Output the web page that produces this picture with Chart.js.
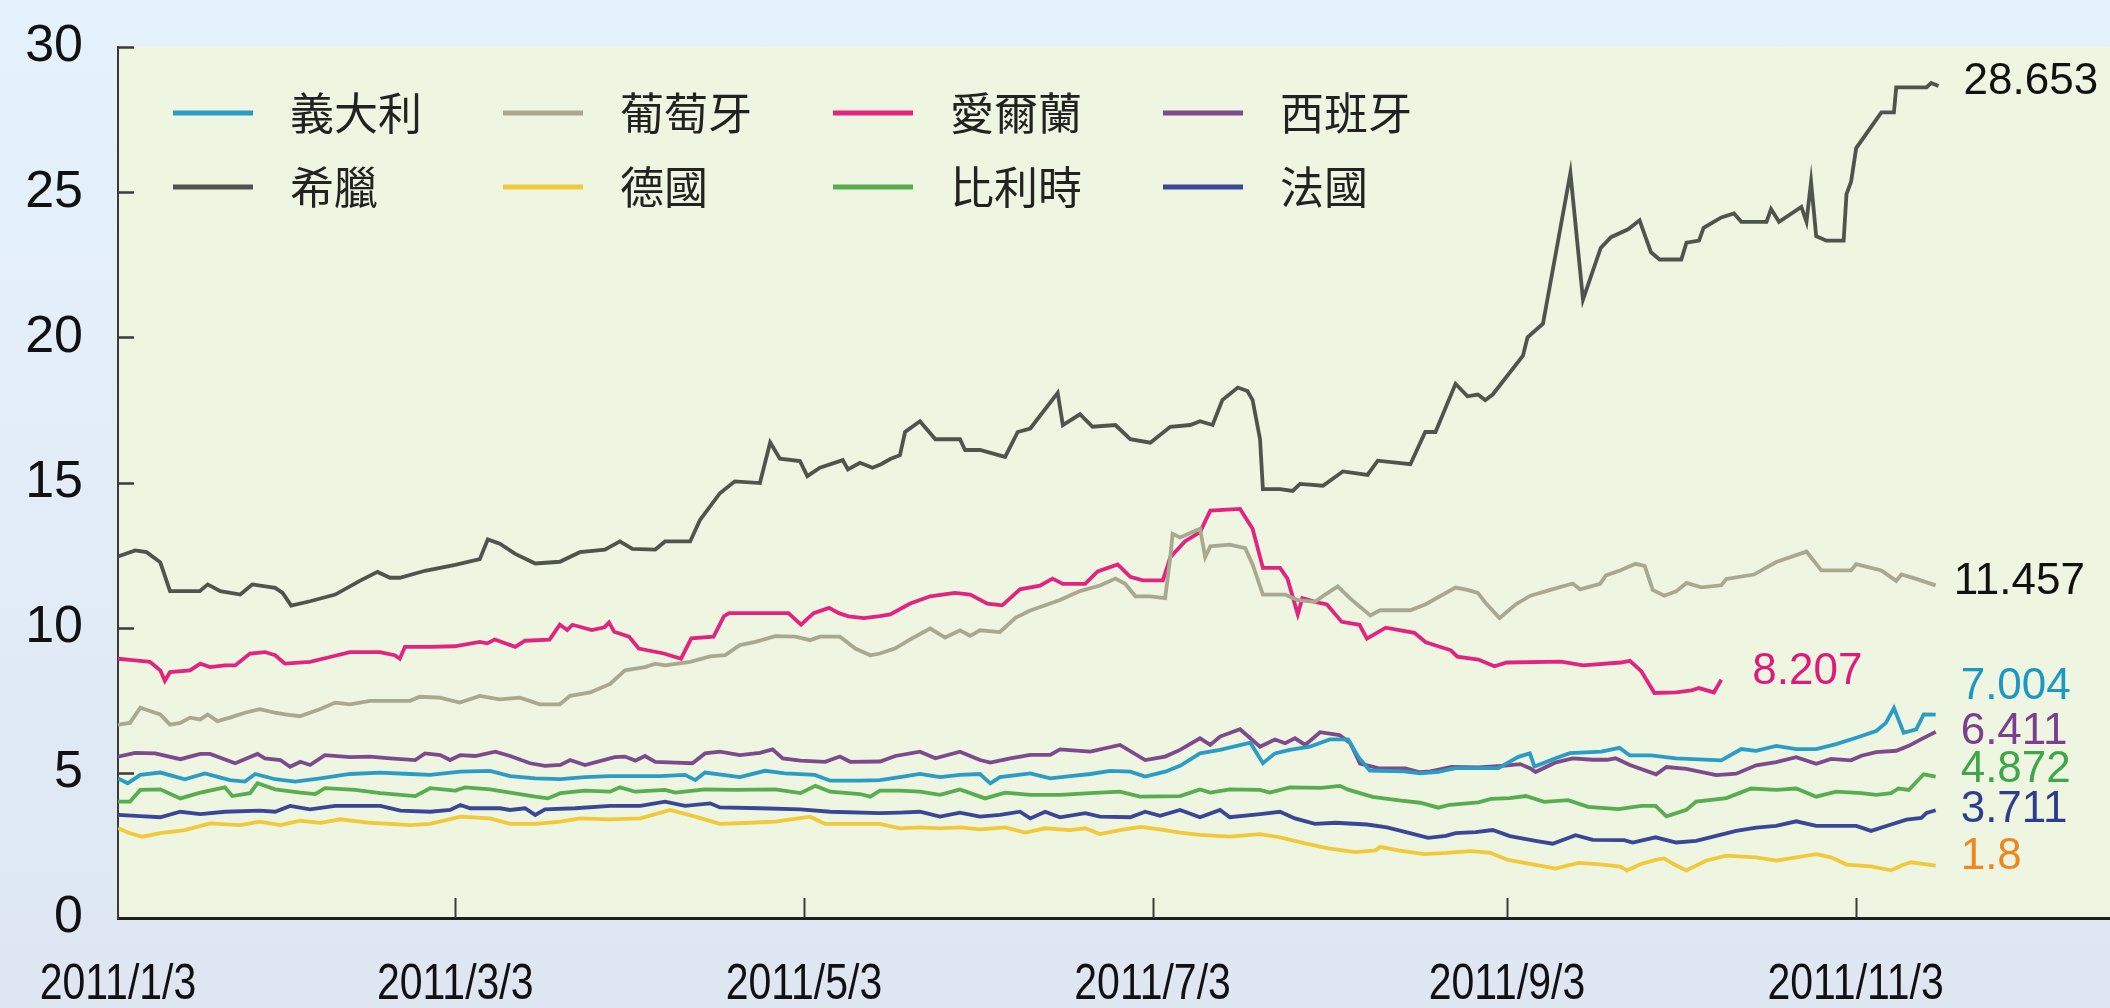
<!DOCTYPE html>
<html>
<head>
<meta charset="utf-8">
<script src="https://cdn.jsdelivr.net/npm/chart.js@4.4.1/dist/chart.umd.min.js"></script>
<style>
html,body{margin:0;padding:0;}
body{width:2110px;height:1008px;overflow:hidden;background:linear-gradient(180deg,#e5f1fb 0%,#e1ecf7 55%,#dde6f1 100%);}
#c{position:absolute;left:0;top:0;}
</style>
</head>
<body>
<canvas id="c" width="2110" height="1008"></canvas>
<script>
// ---------- DATA ----------
const countries = ['義大利','葡萄牙','愛爾蘭','西班牙','希臘','德國','比利時','法國'];
const tickLabels = ['2011/1/3','2011/3/3','2011/5/3','2011/7/3','2011/9/3','2011/11/3'];
const yTickValues = [0,5,10,15,20,25,30];

// [days since 2011/1/3, yield %]
const italy = [[0,4.81],[1.7,4.64],[3.9,4.93],[7.4,5.01],[11.7,4.78],[15.2,4.98],[19.6,4.75],[22.2,4.7],[24,4.96],[27.5,4.78],[31,4.7],[35.4,4.81],[40.6,4.96],[45.9,5.01],[51.1,4.96],[54.6,4.93],[59.9,5.04],[65.1,5.07],[68.6,4.89],[73,4.81],[77.4,4.78],[81.7,4.85],[86.1,4.89],[94.8,4.89],[99.2,4.93],[101,4.75],[102.7,5.01],[108.8,4.85],[113.2,5.07],[116.7,4.98],[121.9,4.93],[124.6,4.73],[129.8,4.73],[133.3,4.75],[136.8,4.85],[140.3,4.96],[143.8,4.85],[147.3,4.93],[150.8,4.96],[152.6,4.64],[154.3,4.85],[159.6,4.98],[163.1,4.81],[166.6,4.89],[170.1,4.96],[173.6,5.07],[177.1,5.04],[179.7,4.87],[183.2,5.04],[185.8,5.24],[189.3,5.67],[192.8,5.79],[198.1,6.04],[200.3,5.33],[202.4,5.67],[205,5.79],[208.5,5.9],[212,6.15],[215.2,6.15],[217,5.55],[219,5.08],[225,5.05],[227.8,4.98],[231,5.03],[234,5.16],[241.5,5.16],[245,5.55],[247,5.67],[247.8,5.22],[249.7,5.36],[251.5,5.5],[254,5.68],[259.5,5.73],[262.7,5.86],[264.5,5.6],[268.2,5.6],[272.6,5.5],[280.5,5.43],[284,5.82],[286.6,5.76],[290.1,5.93],[293.6,5.82],[297.1,5.82],[300.6,5.99],[304.1,6.21],[307.6,6.44],[309.3,6.72],[310.7,7.23],[312.4,6.38],[314.6,6.5],[315.9,7.01],[318,7.004]];

const portugal = [[0,6.66],[2.1,6.72],[3.9,7.24],[5.6,7.13],[7.4,7.01],[9.1,6.66],[10.9,6.72],[12.6,6.9],[14.4,6.84],[15.7,7.01],[17.4,6.78],[19.6,6.9],[22.2,7.07],[24.8,7.19],[27.5,7.07],[29.2,7.01],[31.8,6.95],[35.3,7.19],[38,7.42],[40.6,7.36],[44.1,7.48],[51.1,7.48],[52.8,7.62],[56.3,7.59],[59.8,7.42],[63.3,7.65],[66.8,7.53],[70.3,7.59],[73.8,7.36],[77.3,7.36],[79.1,7.65],[82.6,7.77],[86.1,8.06],[88.7,8.53],[92.2,8.64],[94,8.76],[95.7,8.7],[100.1,8.82],[103.6,9.01],[106.2,9.05],[108.8,9.4],[111.5,9.51],[115,9.71],[118.5,9.69],[121.1,9.57],[122.8,9.69],[126.3,9.69],[129,9.28],[131.6,9.05],[133.3,9.11],[136,9.29],[138.6,9.6],[142.1,9.97],[144.7,9.66],[147.3,9.91],[149.1,9.72],[150.8,9.91],[154.3,9.85],[157,10.34],[159.6,10.59],[163.1,10.83],[164.8,10.95],[168.3,11.26],[171.8,11.45],[174.5,11.69],[176.2,11.51],[178,11.08],[180.6,11.08],[183.2,11.02],[184.1,12.43],[184.5,13.23],[185.8,13.11],[189.3,13.41],[190.2,12.43],[191.1,12.8],[194.5,12.86],[197.2,12.74],[198.5,12.18],[200.3,11.14],[204.2,11.14],[206.4,10.95],[209.4,10.89],[211.2,11.14],[213.4,11.42],[215.6,11.0],[219.1,10.42],[220.8,10.6],[226.1,10.6],[228.7,10.8],[234,11.38],[236.1,11.3],[237.9,11.2],[239.2,10.87],[241.7,10.33],[244.5,10.8],[247.1,11.1],[250.6,11.3],[254.5,11.52],[255.8,11.32],[259.3,11.51],[260.3,11.8],[262.9,11.98],[265.5,12.2],[267.1,12.13],[268.5,11.3],[270.5,11.1],[272.6,11.25],[274.4,11.54],[277,11.39],[280.5,11.46],[281.4,11.68],[286.2,11.83],[290.1,12.26],[295.4,12.62],[298,11.97],[303.2,11.97],[304.1,12.19],[308.5,11.97],[311.1,11.61],[312,11.83],[314.6,11.68],[318,11.457]];

const ireland = [[0,8.93],[3,8.87],[5.6,8.82],[7.4,8.53],[8.2,8.17],[9.1,8.47],[12.6,8.53],[14.4,8.76],[16.1,8.64],[18.7,8.7],[20.5,8.7],[23.1,9.11],[25.7,9.16],[27.5,9.05],[29.2,8.76],[33.6,8.82],[37.1,8.99],[40.6,9.16],[45.8,9.16],[48.4,9.05],[49.3,8.93],[50.2,9.34],[54.6,9.34],[58.9,9.36],[63.3,9.51],[64.6,9.46],[65.9,9.59],[69.5,9.34],[71.2,9.55],[75.5,9.59],[77.3,10.1],[78.6,9.92],[79.5,10.1],[82.9,9.92],[85.1,10.01],[85.9,10.18],[86.8,9.86],[89.4,9.69],[91.1,9.28],[95.5,9.11],[98.5,8.93],[100.3,9.63],[104.2,9.69],[106,10.39],[106.9,10.5],[117.3,10.5],[119.5,10.1],[121.7,10.5],[124.4,10.68],[126.1,10.5],[127.8,10.39],[130.5,10.33],[133.3,10.4],[135.1,10.46],[138.6,10.83],[142.1,11.08],[146.4,11.2],[149.1,11.14],[152.1,10.83],[154.7,10.77],[157.8,11.32],[161.3,11.45],[163.5,11.69],[165.3,11.51],[169.2,11.51],[171.4,11.94],[174.9,12.18],[177.1,11.75],[179.3,11.63],[182.8,11.63],[184.1,12.43],[186.7,12.98],[189.3,13.29],[191.1,14.03],[196.3,14.09],[198.5,13.41],[200.3,12.06],[203.3,12.06],[204.6,11.69],[206.4,10.46],[207.2,11.02],[209.4,10.89],[211.5,10.8],[214.1,10.2],[217.2,10.1],[218.5,9.62],[221.8,10.0],[226.8,9.82],[228.8,9.5],[233.2,9.22],[234.3,9.0],[238,8.9],[240.8,8.67],[243,8.8],[252.5,8.83],[256.3,8.7],[262.9,8.8],[264.5,8.86],[266.5,8.5],[268.8,7.75],[272.6,7.77],[275.3,7.84],[276.6,7.92],[279.2,7.77],[280.5,8.207]];

const spain = [[0,5.56],[3,5.69],[6.5,5.67],[10.9,5.47],[14.4,5.65],[16.1,5.65],[20.5,5.33],[24.4,5.65],[25.7,5.5],[28.4,5.44],[30.1,5.21],[31.9,5.38],[33.6,5.27],[36.2,5.61],[40.6,5.54],[44.1,5.56],[47.6,5.5],[52,5.44],[53.7,5.67],[56.4,5.61],[58.1,5.44],[59.9,5.61],[62.5,5.58],[66,5.73],[68.6,5.58],[72.1,5.33],[74.7,5.24],[77.4,5.27],[79.1,5.44],[81.7,5.27],[86.9,5.54],[88.7,5.56],[90.5,5.42],[92.2,5.58],[94,5.38],[97.5,5.35],[100.5,5.33],[102.7,5.67],[105.3,5.73],[108.8,5.61],[112.3,5.69],[114.5,5.81],[116.3,5.5],[119.4,5.42],[123.7,5.38],[126.3,5.56],[128.1,5.38],[133.3,5.39],[136,5.58],[140.3,5.73],[143,5.5],[147.3,5.73],[150.8,5.44],[152.6,5.35],[156.1,5.5],[159.6,5.62],[163.1,5.62],[164.8,5.81],[170.1,5.73],[175.3,5.96],[179.7,5.44],[183.2,5.56],[185.8,5.79],[189.3,6.19],[191.1,5.96],[192.8,6.25],[196.3,6.5],[199.8,5.9],[202.4,6.15],[204.2,6.02],[205.9,6.19],[207.7,5.96],[210.3,6.4],[213.7,6.3],[215.6,6.02],[217.3,5.32],[220.8,5.15],[225.2,5.15],[227.8,5.02],[229.6,5.05],[233.3,5.2],[238,5.19],[242.7,5.25],[245.3,5.3],[247.1,5.15],[248,5.03],[251.4,5.35],[254.5,5.5],[258,5.45],[260.5,5.45],[262,5.5],[264.5,5.27],[269.1,4.95],[270.9,5.2],[274.4,5.14],[279.6,4.92],[283.1,4.97],[286.6,5.26],[290.1,5.37],[293.6,5.54],[297.1,5.31],[299.7,5.48],[303.2,5.43],[305,5.59],[307.6,5.71],[311.1,5.76],[313.3,5.93],[315.5,6.16],[318,6.411]];

const greece = [[0,12.45],[3,12.66],[5,12.6],[7.4,12.25],[9.1,11.26],[14.3,11.26],[15.7,11.49],[17.9,11.26],[21.4,11.14],[23.5,11.49],[27.5,11.37],[28.8,11.2],[30.3,10.76],[33.6,10.91],[38,11.14],[42.3,11.61],[45.4,11.92],[47.6,11.72],[49.3,11.72],[53.7,11.96],[59,12.16],[63.3,12.36],[64.7,13.04],[66.8,12.89],[69.5,12.54],[73,12.21],[77.3,12.27],[80.8,12.6],[85.2,12.69],[87.8,12.97],[90,12.71],[94,12.69],[95.7,12.97],[100.1,12.97],[101.8,13.7],[105.3,14.63],[107.9,15.04],[112.3,14.98],[114.1,16.38],[115.8,15.82],[119.3,15.74],[120.6,15.22],[122.8,15.51],[126.8,15.77],[127.7,15.45],[129.8,15.68],[132,15.51],[133.5,15.63],[135.1,15.81],[136.8,15.94],[137.7,16.74],[140.3,17.11],[143,16.49],[147.3,16.49],[148.2,16.12],[150.8,16.12],[155.2,15.88],[157.4,16.74],[159.6,16.86],[164.4,18.09],[165.3,16.98],[168.3,17.35],[170.5,16.92],[174.5,16.98],[177.1,16.49],[180.6,16.37],[184.1,16.92],[187.6,16.98],[189.3,17.11],[191.5,16.98],[193.2,17.84],[195.9,18.27],[197.6,18.15],[198.5,17.84],[199.8,16.49],[200.3,14.77],[203.3,14.77],[205.5,14.71],[206.8,14.95],[210.8,14.89],[214.3,15.38],[218.6,15.26],[220.4,15.75],[226.1,15.63],[228.7,16.74],[230.5,16.74],[234,18.4],[236.1,17.97],[237.9,18.03],[239.2,17.84],[240.5,18.03],[245.8,19.37],[246.6,20.0],[249.3,20.47],[254.1,25.66],[256.3,21.3],[259.4,23.08],[261.2,23.45],[264.2,23.72],[266.2,24.03],[268.2,22.93],[269.7,22.68],[273.5,22.68],[274.4,23.26],[276.6,23.33],[277.4,23.77],[280.5,24.13],[282.7,24.27],[284,23.98],[288.4,23.98],[289.2,24.42],[290.6,23.98],[294.5,24.49],[295.4,23.98],[296.2,25.36],[297.1,23.48],[298.9,23.33],[301.9,23.33],[302.4,24.93],[303.2,25.36],[304.1,26.52],[308.5,27.75],[310.7,27.75],[311.1,28.61],[316.4,28.61],[317.2,28.76],[318.5,28.653]];

const germany = [[0,3.09],[2.1,2.92],[4.3,2.8],[7.4,2.92],[11.7,3.03],[16.1,3.26],[21.4,3.2],[24.8,3.32],[28.4,3.2],[31.9,3.35],[35.4,3.28],[38.9,3.4],[44.1,3.28],[47.6,3.24],[51.1,3.2],[54.6,3.24],[59.9,3.49],[65.1,3.43],[68.6,3.24],[73,3.24],[77.4,3.32],[80.8,3.43],[86.1,3.4],[91.4,3.43],[96.6,3.72],[101,3.49],[105.3,3.24],[110.6,3.28],[115,3.32],[121.1,3.49],[123.7,3.24],[133.3,3.24],[136.8,3.09],[140.3,3.12],[143.8,3.09],[147.3,3.12],[150.8,3.05],[155.2,3.12],[158.7,2.94],[162.2,3.09],[166.6,3.03],[169.2,3.09],[171.8,2.89],[175.3,3.03],[178.8,3.14],[182.3,3.05],[185.8,2.94],[189.3,2.86],[194.5,2.8],[199.8,2.89],[203.3,2.78],[207.7,2.57],[211.7,2.4],[216.5,2.27],[220,2.33],[220.8,2.45],[224,2.33],[228.5,2.2],[232.5,2.24],[236.6,2.3],[240,2.25],[243.2,2.0],[247.5,1.85],[251.5,1.7],[255.5,1.9],[259.3,1.85],[262.8,1.77],[264,1.64],[266.3,1.85],[269,2.0],[270.5,2.05],[272.6,1.81],[274.4,1.64],[277.9,1.98],[281.4,2.15],[286.6,2.09],[290.1,1.98],[297.1,2.2],[299.7,2.09],[302.4,1.84],[306.7,1.78],[310.2,1.64],[312,1.81],[313.7,1.92],[318,1.8]];

const belgium = [[0,4.01],[2.1,4.01],[3.9,4.41],[7.4,4.43],[10.9,4.12],[14.4,4.32],[18.7,4.5],[20,4.2],[23.1,4.3],[24.4,4.64],[27.5,4.43],[31.9,4.32],[34.5,4.27],[36.2,4.47],[41.5,4.41],[45.9,4.3],[52,4.2],[54.6,4.47],[59,4.39],[60.7,4.5],[65.1,4.43],[68.6,4.32],[73,4.18],[75.2,4.12],[77.4,4.3],[81.7,4.39],[86.1,4.35],[87.8,4.5],[90.5,4.35],[95.7,4.41],[97.5,4.32],[102.7,4.43],[107.9,4.41],[115,4.43],[119.4,4.3],[122,4.55],[124.6,4.35],[129.8,4.27],[131.6,4.18],[133.3,4.39],[136.8,4.39],[140.3,4.35],[143.8,4.24],[147.3,4.43],[151.7,4.12],[155.2,4.32],[159.6,4.24],[164.8,4.24],[170.1,4.3],[175.3,4.35],[178.8,4.18],[185.8,4.2],[189.3,4.43],[191.1,4.32],[194.5,4.43],[199.8,4.41],[201.5,4.32],[205,4.5],[210.5,4.48],[213.8,4.55],[215.2,4.42],[219.5,4.17],[224.5,4.04],[227.8,3.97],[231,3.8],[233,3.9],[238,3.98],[240.2,4.1],[243.5,4.13],[246.3,4.2],[249.5,4.0],[253.7,4.06],[257.2,3.83],[262.5,3.75],[266.5,3.86],[269,3.86],[270.9,3.5],[274.4,3.73],[276.1,4.01],[281.4,4.13],[285.7,4.46],[290.1,4.41],[293.6,4.46],[297.1,4.18],[300.6,4.35],[305,4.3],[307.6,4.24],[310.2,4.3],[311.5,4.46],[313.3,4.41],[315.9,4.95],[318,4.872]];

const france = [[0,3.55],[3.9,3.51],[7.4,3.47],[10.9,3.66],[14.4,3.58],[18.7,3.66],[24.8,3.7],[27.5,3.66],[30.1,3.86],[33.6,3.74],[38,3.86],[45.9,3.86],[49.4,3.7],[54.6,3.66],[58.1,3.72],[59.9,3.89],[61.6,3.78],[66.8,3.78],[68.6,3.72],[71.2,3.78],[73,3.55],[74.7,3.74],[80,3.78],[86.1,3.86],[91.4,3.86],[95.7,4.01],[99.2,3.86],[103.6,3.95],[105.3,3.81],[112.3,3.78],[119.4,3.74],[124.6,3.66],[133.3,3.61],[136.8,3.63],[140.3,3.66],[143.8,3.49],[147.3,3.63],[150.8,3.49],[154.3,3.55],[157.8,3.66],[159.6,3.43],[162.2,3.66],[164.8,3.47],[169.2,3.61],[171.8,3.49],[177.1,3.47],[179.7,3.66],[182.3,3.52],[185.8,3.72],[189.3,3.47],[192.8,3.72],[194.5,3.47],[199.8,3.58],[203.3,3.66],[205.9,3.43],[209.4,3.24],[213,3.28],[218.5,3.22],[222,3.12],[225.5,2.95],[229.2,2.76],[232.3,2.83],[234,2.92],[237.5,2.96],[240.5,3.03],[243.5,2.82],[248,2.66],[251,2.56],[255,2.85],[258,2.69],[263.5,2.68],[265,2.6],[269,2.78],[272.6,2.6],[276.1,2.66],[279.6,2.83],[283.1,3.0],[286.6,3.11],[290.1,3.17],[293.6,3.33],[297.1,3.17],[304.1,3.17],[306.7,3.0],[310.2,3.22],[312.9,3.39],[315.5,3.45],[316.4,3.62],[318,3.711]];

const seriesList = [italy, portugal, ireland, spain, greece, germany, belgium, france];

// ---------- STYLE ----------
const lineColors  = ['#2a9dc6','#aaa88f','#e2237f','#7d4a8e','#4e554e','#f2c93a','#57ad4f','#3b4696'];
const labelColors = ['#1b98c4','#111111','#e01a7b','#7b3f8f','#111111','#f0861e','#3fa64a','#2e3d8f'];
const labelOffsets = [[25,-28],[18,-4],[31,-8],[25,0],[25,-4],[25,-9],[25,-7],[25,0]];
const plotBg = '#eef5e0';
const numFont = "'Liberation Sans', Arial, sans-serif";
const cjkFont = "'Noto Sans CJK TC', 'Noto Sans CJK SC', sans-serif";

const START = Date.UTC(2011,0,3);
function dayOf(label){ const p = label.split('/').map(Number); return (Date.UTC(p[0],p[1]-1,p[2]) - START)/86400000; }
const tickDays = tickLabels.map(dayOf);

const datasets = seriesList.map((s,i)=>({
  label: countries[i],
  data: s.map(p=>({x:p[0], y:p[1]})),
  borderColor: lineColors[i],
  backgroundColor: lineColors[i],
  borderWidth: 3.8,
  pointRadius: 0,
  tension: 0,
  fill: false
}));

const bgPlugin = {
  id:'bg',
  beforeDraw(chart){
    const {ctx, chartArea:a} = chart;
    ctx.save(); ctx.fillStyle = plotBg; ctx.fillRect(a.left, a.top, a.right-a.left, a.bottom-a.top); ctx.restore();
  }
};

const innerTicks = {
  id:'innerTicks',
  beforeDatasetsDraw(chart){
    const {ctx, chartArea:a, scales:{x, y}} = chart;
    ctx.save(); ctx.strokeStyle = '#3a3a3a'; ctx.lineWidth = 2.5;
    yTickValues.forEach(v=>{ if(v===0) return; const py = Math.round(y.getPixelForValue(v))+0.5; ctx.beginPath(); ctx.moveTo(a.left, py); ctx.lineTo(a.left+16, py); ctx.stroke(); });
    ctx.lineWidth = 2;
    tickDays.forEach(d=>{ if(d===0) return; const px = Math.round(x.getPixelForValue(d))+0.5; ctx.beginPath(); ctx.moveTo(px, a.bottom); ctx.lineTo(px, a.bottom-20); ctx.stroke(); });
    ctx.restore();
  }
};

// x-axis labels: drawn at the x scale's pixel positions, in a condensed face
const xLabels = {
  id:'xLabels',
  afterDraw(chart){
    const {ctx, chartArea:a, scales:{x}} = chart;
    ctx.save();
    ctx.fillStyle = '#111'; ctx.font = `50px ${numFont}`; ctx.textAlign = 'center'; ctx.textBaseline = 'middle';
    tickLabels.forEach((t,i)=>{
      const px = x.getPixelForValue(tickDays[i]);
      ctx.save(); ctx.translate(px, a.bottom + 67); ctx.scale(0.82, 1); ctx.fillText(t, 0, 0); ctx.restore();
    });
    ctx.restore();
  }
};

const gridLegend = {
  id:'gridLegend',
  afterDraw(chart){
    const {ctx, chartArea:a} = chart;
    ctx.save();
    chart.data.datasets.forEach((ds,i)=>{
      const col = i % 4, row = Math.floor(i/4);
      const x0 = a.left + 55 + col*330, yy = a.top + 66 + row*74;
      ctx.strokeStyle = ds.borderColor; ctx.lineWidth = 5; ctx.lineCap = 'butt';
      ctx.beginPath(); ctx.moveTo(x0, yy); ctx.lineTo(x0+80, yy); ctx.stroke();
      ctx.fillStyle = '#222'; ctx.font = `44px ${cjkFont}`; ctx.textBaseline = 'middle'; ctx.textAlign = 'left';
      ctx.fillText(ds.label, x0+117, yy);
    });
    ctx.restore();
  }
};

const endLabels = {
  id:'endLabels',
  afterDatasetsDraw(chart){
    const {ctx} = chart;
    ctx.save();
    ctx.font = `44px ${numFont}`; ctx.textBaseline = 'middle'; ctx.textAlign = 'left';
    chart.data.datasets.forEach((ds,i)=>{
      const meta = chart.getDatasetMeta(i);
      const pt = meta.data[meta.data.length-1];
      const val = ds.data[ds.data.length-1].y;
      ctx.fillStyle = labelColors[i];
      ctx.fillText(String(val), pt.x + labelOffsets[i][0], pt.y + labelOffsets[i][1]);
    });
    ctx.restore();
  }
};

new Chart(document.getElementById('c'), {
  type:'line',
  data:{datasets},
  options:{
    responsive:false, animation:false, devicePixelRatio:1,
    layout:{padding:{top:47,left:0,right:0,bottom:0}},
    plugins:{legend:{display:false}, tooltip:{enabled:false}},
    scales:{
      x:{
        type:'linear', min:0, max:348.5,
        grid:{display:false, drawTicks:false},
        border:{display:true, color:'#1e1e1e', width:3},
        afterBuildTicks:(s)=>{ s.ticks = tickDays.map(v=>({value:v})); },
        ticks:{display:false},
        afterFit:(s)=>{ s.height = 90; }
      },
      y:{
        min:0, max:30,
        afterBuildTicks:(s)=>{ s.ticks = yTickValues.map(v=>({value:v})); },
        grid:{display:false, drawTicks:false},
        border:{display:true, color:'#3a3a3a', width:2},
        ticks:{padding:35, color:'#111', font:{family:numFont, size:52, lineHeight:0.4}},
        afterFit:(s)=>{ s.width = 118; }
      }
    }
  },
  plugins:[bgPlugin, innerTicks, endLabels, gridLegend, xLabels]
});
</script>
</body>
</html>
